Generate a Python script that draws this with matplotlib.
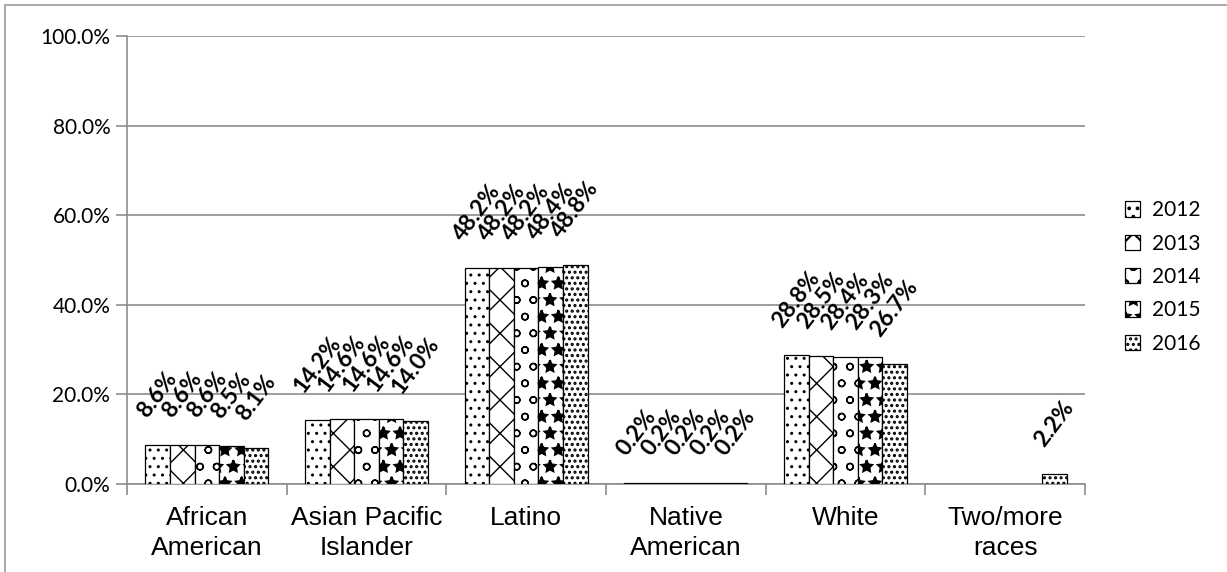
import numpy as np
import matplotlib
matplotlib.use("Agg")
import matplotlib.pyplot as plt
from matplotlib.patches import Rectangle

categories = ["African\nAmerican", "Asian Pacific\nIslander", "Latino",
              "Native\nAmerican", "White", "Two/more\nraces"]
years = ["2012", "2013", "2014", "2015", "2016"]

# percent of students, nan = no value shown
v2012 = [8.6, 14.2, 48.2, 0.2, 28.8, np.nan]
v2013 = [8.6, 14.6, 48.2, 0.2, 28.5, np.nan]
v2014 = [8.6, 14.6, 48.2, 0.2, 28.4, np.nan]
v2015 = [8.5, 14.6, 48.4, 0.2, 28.3, np.nan]
v2016 = [8.1, 14.0, 48.8, 0.2, 26.7, 2.2]
series = [v2012, v2013, v2014, v2015, v2016]

hatches = ["..", "x", "o", "*", "..."]
hatch_lw = [1.0, 1.0, 1.0, 1.5, 1.5]

GRAY = "#8c8c8c"

fig = plt.figure(figsize=(12.27, 5.72), dpi=100)
ax = fig.add_axes([127 / 1227, 1 - 484 / 572, (1085 - 127) / 1227, 448 / 572])

# outer chart border
fig.patches.append(Rectangle((5 / 1227, -0.01), 1.0, 1 - 5 / 572 + 0.01,
                             transform=fig.transFigure, fill=False,
                             edgecolor="#9a9a9a", linewidth=1.2))

x = np.arange(len(categories))
bw = 0.154
legend_handles = []
for i, (yr, vals) in enumerate(zip(years, series)):
    plt.rcParams["hatch.linewidth"] = hatch_lw[i]
    pos = x + (i - 2) * bw
    bars = ax.bar(pos, vals, width=bw, color="white", edgecolor="black",
                  hatch=hatches[i], linewidth=0.9, zorder=3, label=yr)
    for b in bars:
        if hasattr(b, "set_hatch_linewidth"):
            b.set_hatch_linewidth(hatch_lw[i])
    legend_handles.append(bars)
    for px, v in zip(pos, vals):
        if np.isnan(v):
            continue
        ax.annotate(f"{v:.1f}%", (px, v), xytext=(0, 17), textcoords="offset points",
                    ha="center", va="bottom", rotation=53, fontsize=16.5,
                    fontweight="bold", family="Lato", zorder=4)

ax.set_ylim(0, 100)
ax.set_xlim(-0.5, len(categories) - 0.5)
ax.set_yticks(np.arange(0, 101, 20))
ax.set_yticklabels([f"{t:.1f}%" for t in np.arange(0, 101, 20)],
                   fontsize=15, family="Lato")
ax.yaxis.grid(True, color=GRAY, linewidth=1.2, zorder=0)

ax.set_xticks(np.arange(-0.5, len(categories), 1.0))
ax.set_xticklabels([])
ax.set_xticks(x, minor=True)
ax.set_xticklabels(categories, minor=True, fontsize=19, family="Liberation Sans",
                   linespacing=1.3)
ax.tick_params(axis="x", which="minor", length=0, pad=16)
ax.tick_params(axis="x", which="major", length=8, color=GRAY, width=1.2)
ax.tick_params(axis="y", length=8, color=GRAY, width=1.2, pad=4)

for s in ["top", "right"]:
    ax.spines[s].set_visible(False)
for s in ["left", "bottom"]:
    ax.spines[s].set_color(GRAY)
    ax.spines[s].set_linewidth(1.2)

leg = ax.legend(handles=legend_handles, loc="center left",
                bbox_to_anchor=(1.022, 0.462), frameon=False,
                prop={"family": "Lato", "size": 15}, handlelength=0.75,
                handleheight=0.75, handletextpad=0.55, labelspacing=0.64)

fig.savefig("out.png", dpi=100)
